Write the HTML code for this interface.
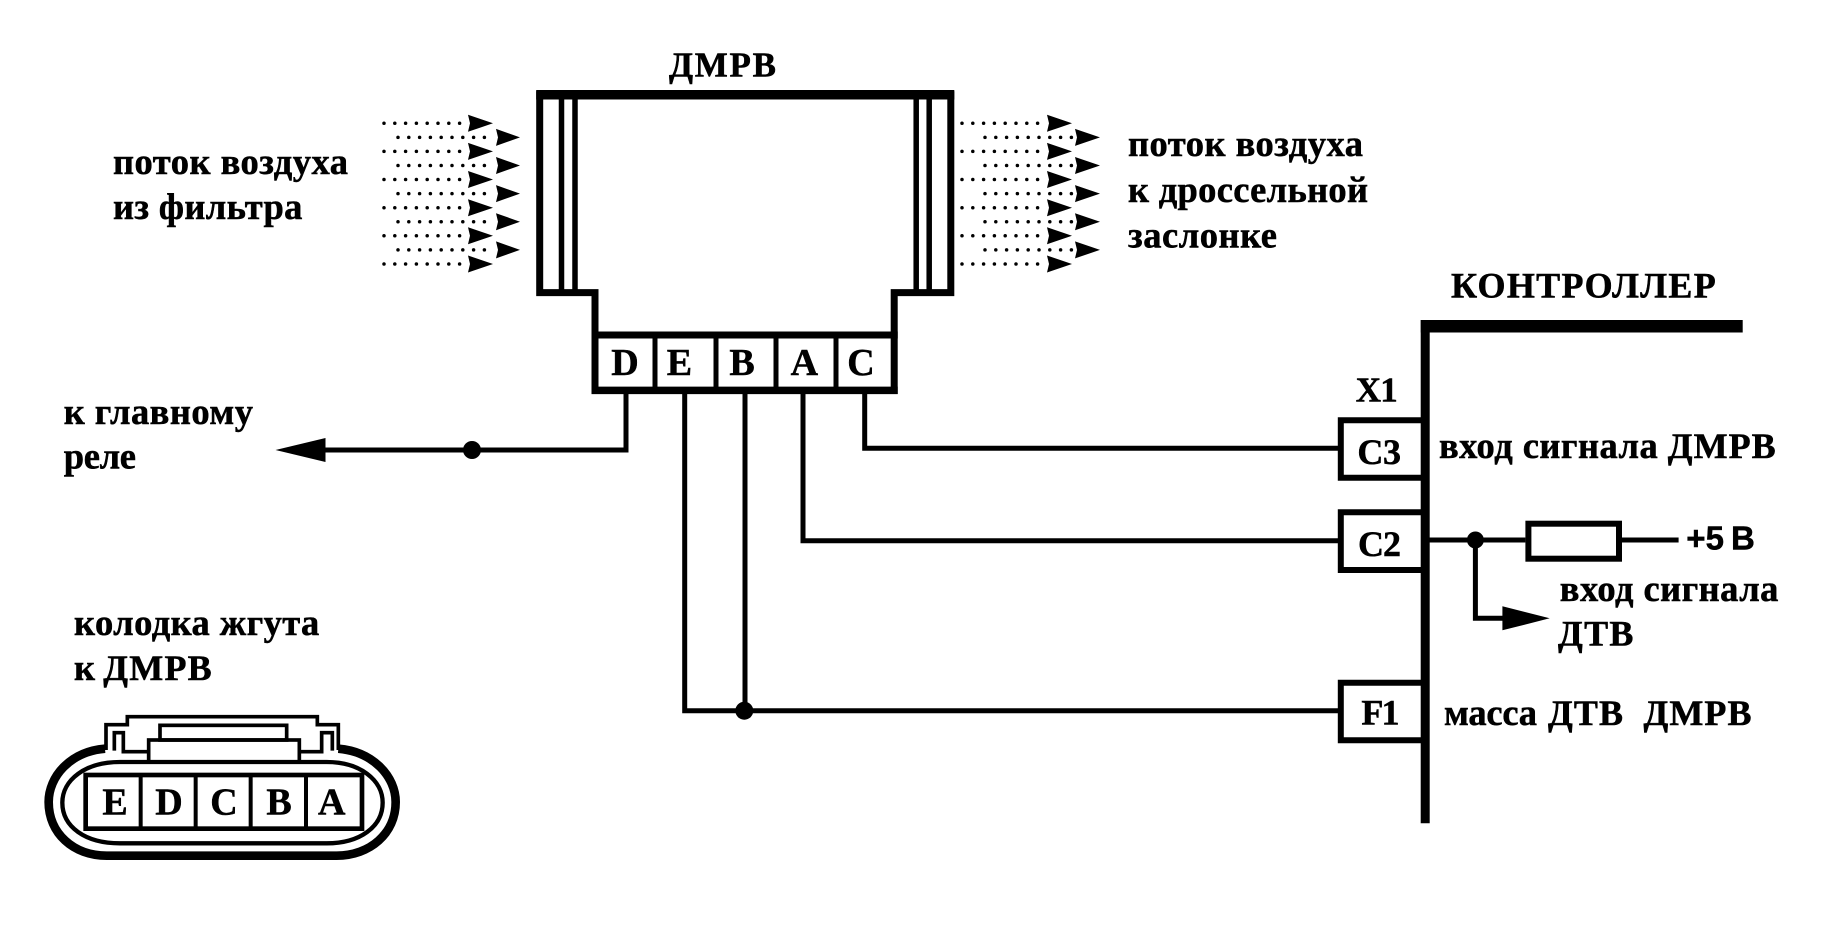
<!DOCTYPE html>
<html><head><meta charset="utf-8"><style>
html,body{margin:0;padding:0;background:#fff}
svg{display:block}
text{font-family:"Liberation Serif","DejaVu Serif",serif;font-weight:bold;fill:#000;stroke:#000;stroke-width:.5px}
.t{font-size:36.5px}.c{font-size:38px;text-anchor:middle}
</style></head><body>
<svg xmlns="http://www.w3.org/2000/svg" width="1829" height="946" viewBox="0 0 1829 946">
<rect width="1829" height="946" fill="#fff"/>
<g fill="none" stroke="#000" stroke-linecap="butt" stroke-linejoin="miter">
<!-- DMRV body -->
<path d="M539.700 94.700H950.800V292.600H894.200V335H595V292.600H539.700Z" stroke-width="7" fill="none"/>
<path d="M536.200 94.700H954.300" stroke-width="9.500"/>
<path d="M561.500 95V290M575 95V290M916.200 95V290M929.200 95V290" stroke-width="5.500"/>
<rect x="595" y="335" width="299.200" height="55.500" stroke-width="7"/>
<path d="M591.500 390.400H897.700" stroke-width="7.500"/>
<path d="M655 335V390M716 335V390M776 335V390M836 335V390" stroke-width="5"/>
<!-- wires -->
<path d="M626 392V450H300" stroke-width="5"/>
<path d="M684.700 392V710.700H1340" stroke-width="5"/>
<path d="M745 392V710" stroke-width="5"/>
<path d="M803 392V540.700H1340" stroke-width="5"/>
<path d="M864.700 392V448.300H1340" stroke-width="5"/>
<!-- controller -->
<path d="M1425.200 320V823.300" stroke-width="9"/>
<path d="M1420.800 326.200H1742.700" stroke-width="12.500"/>
<path d="M1425 420.300H1340.800V477.800H1425" stroke-width="6"/>
<path d="M1425 512.200H1340.800V570H1425" stroke-width="6"/>
<path d="M1425 682.800H1340.800V740.300H1425" stroke-width="6"/>
<path d="M1429 540H1525.400M1622 540H1678.600" stroke-width="5"/>
<rect x="1528.400" y="523.700" width="90.600" height="35" stroke-width="6"/>
<path d="M1475.400 540V618.300H1510" stroke-width="5"/>
<!-- dotted flows -->
<g stroke-width="3.500" stroke-linecap="round" stroke-dasharray="0 10.800">
<path d="M384 123.300H464M384 151.400H464M384 179.500H464M384 207.700H464M384 235.800H464M384 264H464"/>
<path d="M398 137.400H494M398 165.500H494M398 193.600H494M398 221.700H494M398 249.900H494"/>
<path d="M962 123.300H1042M962 151.400H1042M962 179.500H1042M962 207.700H1042M962 235.800H1042M962 264H1042"/>
<path d="M985 137.400H1072M985 165.500H1072M985 193.600H1072M985 221.700H1072M985 249.900H1072"/>
</g>
</g>
<g fill="#000">
<path d="M468 114.800L493 123.300L468 131.800L470 123.300Z"/>
<path d="M468 142.900L493 151.400L468 159.900L470 151.400Z"/>
<path d="M468 171L493 179.500L468 188L470 179.500Z"/>
<path d="M468 199.200L493 207.700L468 216.200L470 207.700Z"/>
<path d="M468 227.300L493 235.800L468 244.300L470 235.800Z"/>
<path d="M468 255.500L493 264L468 272.500L470 264Z"/>
<path d="M496 128.900L520 137.400L496 145.900L498 137.400Z"/>
<path d="M496 157L520 165.500L496 174L498 165.500Z"/>
<path d="M496 185.100L520 193.600L496 202.100L498 193.600Z"/>
<path d="M496 213.200L520 221.700L496 230.200L498 221.700Z"/>
<path d="M496 241.400L520 249.900L496 258.400L498 249.900Z"/>
<path d="M1047 114.800L1072 123.300L1047 131.800L1049 123.300Z"/>
<path d="M1047 142.900L1072 151.400L1047 159.900L1049 151.400Z"/>
<path d="M1047 171L1072 179.500L1047 188L1049 179.500Z"/>
<path d="M1047 199.200L1072 207.700L1047 216.200L1049 207.700Z"/>
<path d="M1047 227.300L1072 235.800L1047 244.300L1049 235.800Z"/>
<path d="M1047 255.500L1072 264L1047 272.500L1049 264Z"/>
<path d="M1075 128.900L1100 137.400L1075 145.900L1077 137.400Z"/>
<path d="M1075 157L1100 165.500L1075 174L1077 165.500Z"/>
<path d="M1075 185.100L1100 193.600L1075 202.100L1077 193.600Z"/>
<path d="M1075 213.200L1100 221.700L1075 230.200L1077 221.700Z"/>
<path d="M1075 241.400L1100 249.900L1075 258.400L1077 249.900Z"/>
<path d="M275.500 450L325.500 438V462Z"/>
<path d="M1549.700 618.300L1502.400 606.300V630.300Z"/>
<circle cx="472" cy="450" r="9"/>
<circle cx="744.300" cy="710.700" r="9"/>
<circle cx="1475.400" cy="540" r="8.500"/>
</g>
<!-- harness connector -->
<g transform="translate(20 600) scale(.33333)" fill="none" stroke="#000" stroke-linejoin="miter">
<path d="M255 446C150 455 86 530 86 606C86 700 160 767 260 767H950C1050 767 1127 700 1127 606C1127 530 1060 455 955 446" stroke-width="26"/>
<path d="M300 486H920C1020 486 1088 540 1088 608C1088 680 1020 730 920 730H300C195 730 127 680 127 608C127 540 195 486 300 486Z" stroke-width="13"/>
<rect x="197" y="525" width="829" height="161" stroke-width="14"/>
<path d="M362 525V686M527 525V686M692 525V686M858 525V686" stroke-width="12"/>
<path d="M258 450V374H322V350H892V374H955V450" stroke-width="11"/>
<path d="M283 452V398H310V455H385M838 455H905V398H937V452" stroke-width="11"/>
<rect x="420" y="376" width="380" height="44" stroke-width="11"/>
<rect x="386" y="420" width="452" height="66" stroke-width="11"/>
</g>
<!-- labels -->
<text x="669" y="76.700" font-size="35" textLength="107">ДМРВ</text>
<text class="t" x="113" y="174" textLength="235">поток воздуха</text>
<text class="t" x="113" y="219" textLength="189.400">из фильтра</text>
<text class="t" x="1128" y="156" textLength="235">поток воздуха</text>
<text class="t" x="1128" y="202" textLength="240">к дроссельной</text>
<text class="t" x="1128" y="247.500" textLength="149">заслонке</text>
<text class="t" x="63.700" y="424" textLength="189.300">к главному</text>
<text class="t" x="63.700" y="468.500" textLength="72.300">реле</text>
<text class="t" x="74" y="635" textLength="245.300">колодка жгута</text>
<text class="t" x="74" y="680">к</text>
<text x="103.300" y="680" font-size="36" textLength="108.400">ДМРВ</text>
<text x="1451" y="297.300" font-size="36" textLength="264.700">КОНТРОЛЛЕР</text>
<text x="1355.700" y="401.700" font-size="35" textLength="42.100">X1</text>
<text x="1357.400" y="464" font-size="36" textLength="43.600">C3</text>
<text x="1358" y="556" font-size="36" textLength="43">C2</text>
<text x="1361.400" y="724.300" font-size="36" textLength="38.100">F1</text>
<text class="t" x="1439" y="458" textLength="218.700">вход сигнала</text>
<text x="1667.800" y="458" font-size="36" textLength="107.900">ДМРВ</text>
<text x="1686.300" y="549.300" font-size="33" style="font-family:'Liberation Sans',sans-serif">+5</text>
<text x="1731" y="549.300" font-size="33" style="font-family:'Liberation Sans',sans-serif">В</text>
<text class="t" x="1559.800" y="601" textLength="218.600">вход сигнала</text>
<text x="1558" y="645.500" font-size="36" textLength="75.400">ДТВ</text>
<text class="t" x="1444" y="725" textLength="93">масса</text>
<text x="1548" y="725" font-size="36" textLength="75">ДТВ</text>
<text x="1643.500" y="725" font-size="36" textLength="108">ДМРВ</text>
<text class="c" x="625" y="375">D</text>
<text class="c" x="679.400" y="375">E</text>
<text class="c" x="742" y="375">B</text>
<text class="c" x="804.400" y="375">A</text>
<text class="c" x="861" y="375">C</text>
<text class="c" x="115" y="814.300">E</text>
<text class="c" x="169" y="814.300">D</text>
<text class="c" x="224" y="814.300">C</text>
<text class="c" x="279" y="814.300">B</text>
<text class="c" x="331.700" y="814.300">A</text>
</svg>
</body></html>
